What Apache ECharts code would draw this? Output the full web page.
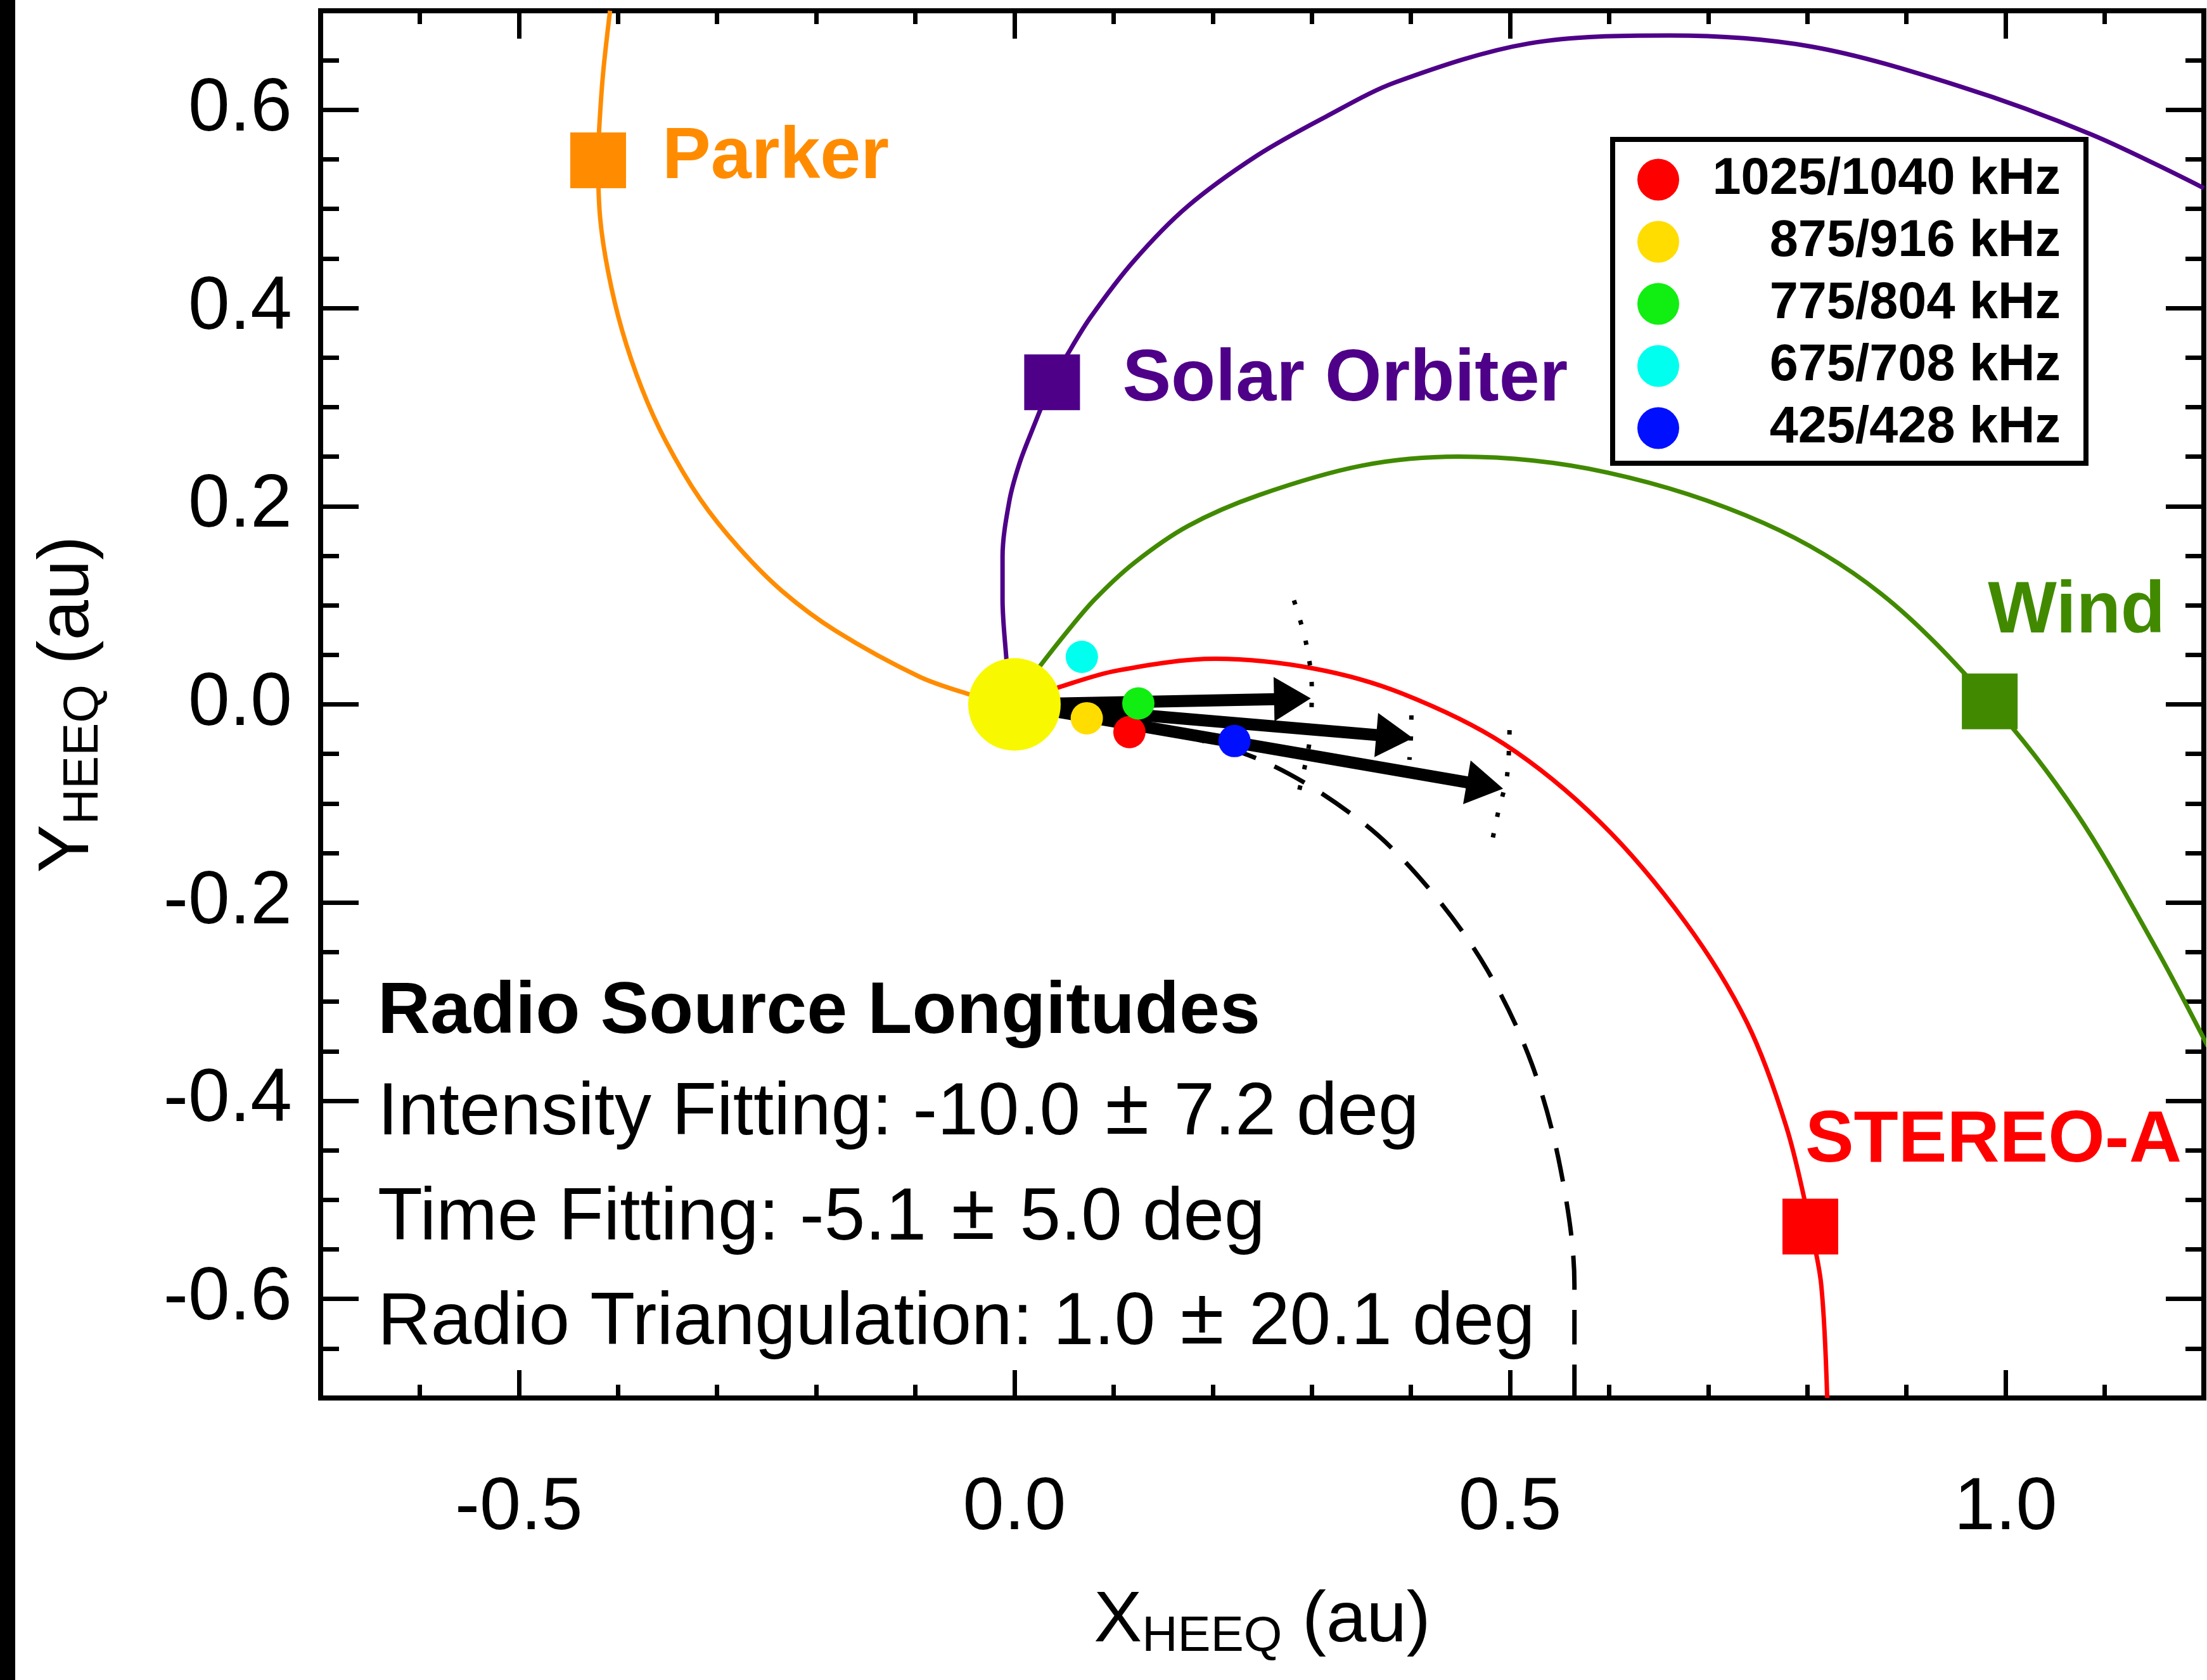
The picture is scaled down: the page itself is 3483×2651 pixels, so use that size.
<!DOCTYPE html>
<html>
<head>
<meta charset="utf-8">
<title>Radio Source Longitudes</title>
<script src="https://cdn.jsdelivr.net/npm/echarts@6.0.0/dist/echarts.min.js"></script>
<style>
  html, body { margin: 0; padding: 0; background: #fff; }
  #chart { width: 3483px; height: 2651px; }
</style>
</head>
<body>
<div id="chart"></div>
<script>
// axis ranges / tick values (HEEQ, au)
const xRange = [-0.7, 1.2];
const yRange = [-0.7, 0.7];
const xMajorTicks = [-0.5, 0.0, 0.5, 1.0];
const yMajorTicks = [-0.6, -0.4, -0.2, 0.0, 0.2, 0.4, 0.6];

// field lines, [x, y] pairs (start under the Sun disc)
const parkerLine = [[-0.020, 0.004], [-0.045, 0.010], [-0.096, 0.028], [-0.180, 0.074], [-0.234, 0.114],
  [-0.278, 0.158], [-0.317, 0.207], [-0.352, 0.266], [-0.376, 0.319], [-0.396, 0.378],
  [-0.410, 0.437], [-0.418, 0.491], [-0.420, 0.549], [-0.419, 0.580], [-0.415, 0.637], [-0.408, 0.700]];
const solarOrbiterLine = [[-0.006, 0.020], [-0.008, 0.044], [-0.012, 0.106], [-0.012, 0.149], [-0.005, 0.206],
  [0.005, 0.243], [0.018, 0.277], [0.038, 0.325], [0.054, 0.354], [0.077, 0.391], [0.120, 0.447],
  [0.174, 0.502], [0.245, 0.554], [0.314, 0.593], [0.385, 0.628], [0.519, 0.667], [0.661, 0.675],
  [0.803, 0.664], [0.953, 0.624], [1.087, 0.575], [1.200, 0.521]];
const windLine = [[0.012, 0.020], [0.026, 0.039], [0.052, 0.072], [0.081, 0.106], [0.121, 0.143],
  [0.175, 0.180], [0.246, 0.211], [0.351, 0.241], [0.448, 0.250], [0.598, 0.234], [0.756, 0.183],
  [0.874, 0.112], [0.984, 0.003], [1.071, -0.109], [1.150, -0.243], [1.204, -0.345]];
const stereoLine = [[0.020, 0.008], [0.044, 0.017], [0.103, 0.034], [0.203, 0.046], [0.303, 0.036],
  [0.391, 0.011], [0.494, -0.040], [0.591, -0.119], [0.677, -0.220], [0.739, -0.321],
  [0.779, -0.427], [0.803, -0.527], [0.814, -0.586], [0.820, -0.700]];
const sourceSpiral = [[0.050, -0.008], [0.120, -0.020], [0.248, -0.056], [0.351, -0.119], [0.420, -0.188],
  [0.477, -0.268], [0.522, -0.363], [0.551, -0.469], [0.565, -0.586], [0.565, -0.700]];

// dotted uncertainty arcs at the arrow heads
const arc03 = [[0.282, 0.105], [0.294, 0.063], [0.300, 0.016], [0.298, -0.035], [0.292, -0.067], [0.284, -0.100]];
const arc04 = [[0.4005, -0.011], [0.400, -0.033], [0.3985, -0.056]];
const arc05 = [[0.4995, -0.026], [0.497, -0.072], [0.488, -0.109], [0.480, -0.148]];

// arrows: [x0, y0, x1, y1]
const arrows = [[0, 0, 0.299, 0.006], [0, 0, 0.402, -0.034], [0, 0, 0.493, -0.085]];

const sunPos = [0, 0];

const spacecraftNames = ['Parker', 'Solar Orbiter', 'Wind', 'STEREO-A'];
const spacecraftPos = [[-0.420, 0.549], [0.038, 0.325], [0.984, 0.003], [0.803, -0.527]];

const freqNames = ['1025/1040 kHz', '875/916 kHz', '775/804 kHz', '675/708 kHz', '425/428 kHz'];
const freqPos = [[0.116, -0.028], [0.073, -0.014], [0.125, 0.001], [0.068, 0.048], [0.222, -0.037]];

const infoTitle = 'Radio Source Longitudes';
const infoLines = [
  'Intensity Fitting: -10.0 \u00b1 7.2 deg',
  'Time Fitting: -5.1 \u00b1 5.0 deg',
  'Radio Triangulation: 1.0 \u00b1 20.1 deg'
];

// ---- styles ----
const FONT = '"Liberation Sans", Arial, Helvetica, sans-serif';
const spacecraftColors = ['#FF8C00', '#4E0088', '#418A00', '#FF0000'];
const freqColors = ['#FF0000', '#FFDD00', '#11EE11', '#00FFEE', '#0010FF'];
// label anchor relative to the square's top-left corner
const spacecraftLabelPos = [[145, 40], [155, 41], [181, -97], [333, -90]];
const spacecraftLabelAlign = ['left', 'left', 'center', 'center'];

const chart = echarts.init(document.getElementById('chart'));

function xAxisOf(position, major) {
  const axis = {
    type: 'value', position: position, min: xRange[0], max: xRange[1], interval: 0.1,
    axisLine: { show: major, onZero: false, lineStyle: { color: '#000', width: 8, cap: 'square' } },
    axisTick: { inside: true, length: major ? 44 : 21, lineStyle: { color: '#000', width: 7 } },
    axisLabel: { show: false },
    splitLine: { show: false }
  };
  if (major) axis.axisTick.customValues = xMajorTicks;
  return axis;
}

function yAxisOf(position, major) {
  const axis = {
    type: 'value', position: position, min: yRange[0], max: yRange[1], interval: 0.05,
    axisLine: { show: major, onZero: false, lineStyle: { color: '#000', width: 8, cap: 'square' } },
    axisTick: { inside: true, length: major ? 60 : 29, lineStyle: { color: '#000', width: 7 } },
    axisLabel: { show: false },
    splitLine: { show: false }
  };
  if (major) axis.axisTick.customValues = yMajorTicks;
  return axis;
}

const titleRich = {
  m: { fontSize: 114, fontFamily: FONT, color: '#000', lineHeight: 120, verticalAlign: 'top' },
  s: { fontSize: 78, fontFamily: FONT, color: '#000', lineHeight: 78, padding: [75, 0, 0, 0], verticalAlign: 'bottom' }
};

const xBottom = xAxisOf('bottom', true);
xBottom.axisLabel = {
  show: true, customValues: xMajorTicks, formatter: v => v.toFixed(1),
  margin: 116, fontSize: 117, lineHeight: 117, fontFamily: FONT, color: '#000'
};
xBottom.name = '{m|X}{s|HEEQ}{m| (au)}';
xBottom.nameLocation = 'middle';
xBottom.nameGap = 296;
xBottom.nameTextStyle = { rich: titleRich };

const yLeft = yAxisOf('left', true);
yLeft.axisLabel = {
  show: true, customValues: yMajorTicks, formatter: v => v.toFixed(1),
  margin: 45, fontSize: 118, fontFamily: FONT, color: '#000'
};
yLeft.name = '{m|Y}{s|HEEQ}{m| (au)}';
yLeft.nameLocation = 'middle';
yLeft.nameRotate = 90;
yLeft.nameGap = 335;
yLeft.nameTextStyle = { rich: titleRich };

function curve(data, color, width, type) {
  return {
    type: 'line', data: data, smooth: 0.33, symbol: 'none', silent: true, z: 2,
    lineStyle: { color: color, width: width, type: type || 'solid' }
  };
}

const series = [
  curve(parkerLine, spacecraftColors[0], 7),
  curve(solarOrbiterLine, spacecraftColors[1], 7),
  curve(windLine, spacecraftColors[2], 7),
  curve(stereoLine, spacecraftColors[3], 7),
  curve(sourceSpiral, '#000', 7, [54, 32]),
  curve(arc03, '#000', 7, [7, 26]),
  curve(arc04, '#000', 7, [7, 26]),
  curve(arc05, '#000', 7, [7, 26]),
  {
    // direction arrows from the Sun
    type: 'custom',
    data: arrows,
    encode: { x: [0, 2], y: [1, 3] },
    silent: true,
    z: 4,
    renderItem: function (params, api) {
      const p0 = api.coord([api.value(0), api.value(1)]);
      const p1 = api.coord([api.value(2), api.value(3)]);
      const dx = p1[0] - p0[0], dy = p1[1] - p0[1];
      const len = Math.sqrt(dx * dx + dy * dy);
      const ux = dx / len, uy = dy / len;
      const headLen = 58, headHalf = 35;
      const bx = p1[0] - ux * headLen, by = p1[1] - uy * headLen;
      return {
        type: 'group',
        children: [
          { type: 'line', shape: { x1: p0[0], y1: p0[1], x2: bx + ux * 4, y2: by + uy * 4 },
            style: { stroke: '#000', lineWidth: 19 } },
          { type: 'polygon',
            shape: { points: [p1, [bx - uy * headHalf, by + ux * headHalf], [bx + uy * headHalf, by - ux * headHalf]] },
            style: { fill: '#000' } }
        ]
      };
    }
  },
  {
    type: 'scatter', data: [sunPos], symbolSize: 146, silent: true, z: 5,
    itemStyle: { color: '#F8F800', opacity: 1 }
  }
];

freqNames.forEach(function (name, i) {
  series.push({
    type: 'scatter', name: name, data: [freqPos[i]], symbolSize: 51, silent: true, z: 6,
    itemStyle: { color: freqColors[i], opacity: 1 }
  });
});

spacecraftNames.forEach(function (name, i) {
  series.push({
    type: 'scatter', data: [spacecraftPos[i]], symbol: 'rect', symbolSize: 88, silent: true, z: 6,
    itemStyle: { color: spacecraftColors[i], opacity: 1 },
    label: {
      show: true, formatter: name, position: spacecraftLabelPos[i],
      align: spacecraftLabelAlign[i], verticalAlign: 'middle',
      color: spacecraftColors[i], fontSize: 115, fontWeight: 'bold', fontFamily: FONT
    }
  });
});

// text block in the lower left
const infoRich = {
  a: { fontSize: 116, fontFamily: FONT, color: '#000' },
  p: { fontSize: 126, fontFamily: FONT, color: '#000', padding: [0, 7, 7, 7] }
};
const graphic = [
  { type: 'rect', x: 0, y: 0, shape: { width: 24, height: 2651 }, style: { fill: '#000' }, silent: true },
  { type: 'text', x: 596, y: 1598, z: 10,
    style: { text: infoTitle, fontSize: 115, fontWeight: 'bold', fontFamily: FONT, fill: '#000', verticalAlign: 'middle' } }
];
const infoY = [1758, 1924, 2089];
infoLines.forEach(function (t, i) {
  const parts = t.split('\u00b1');
  graphic.push({ type: 'text', x: 596, y: infoY[i], z: 10,
    style: {
      text: '{a|' + parts[0] + '}{p|\u00b1}{a|' + parts[1] + '}',
      rich: infoRich, fill: '#000', verticalAlign: 'middle'
    } });
});

const option = {
  backgroundColor: '#fff',
  animation: false,
  grid: { left: 506, right: 5, top: 17, bottom: 445, containLabel: false, outerBoundsMode: 'none' },
  xAxis: [xBottom, xAxisOf('bottom', false), xAxisOf('top', true), xAxisOf('top', false)],
  yAxis: [yLeft, yAxisOf('left', false), yAxisOf('right', true), yAxisOf('right', false)],
  legend: {
    data: freqNames, orient: 'vertical', left: 2545, top: 220,
    icon: 'circle', itemWidth: 66, itemHeight: 66, itemGap: 17,
    padding: [23, 40, 15, 39], borderColor: '#000', borderWidth: 8, backgroundColor: '#fff',
    selectedMode: false,
    formatter: name => '{r|' + name + '}',
    textStyle: {
      rich: { r: { width: 597, align: 'right', fontSize: 81, fontWeight: 'bold', fontFamily: FONT, color: '#000', lineHeight: 66 } }
    }
  },
  graphic: graphic,
  series: series
};

chart.setOption(option);
</script>
</body>
</html>
